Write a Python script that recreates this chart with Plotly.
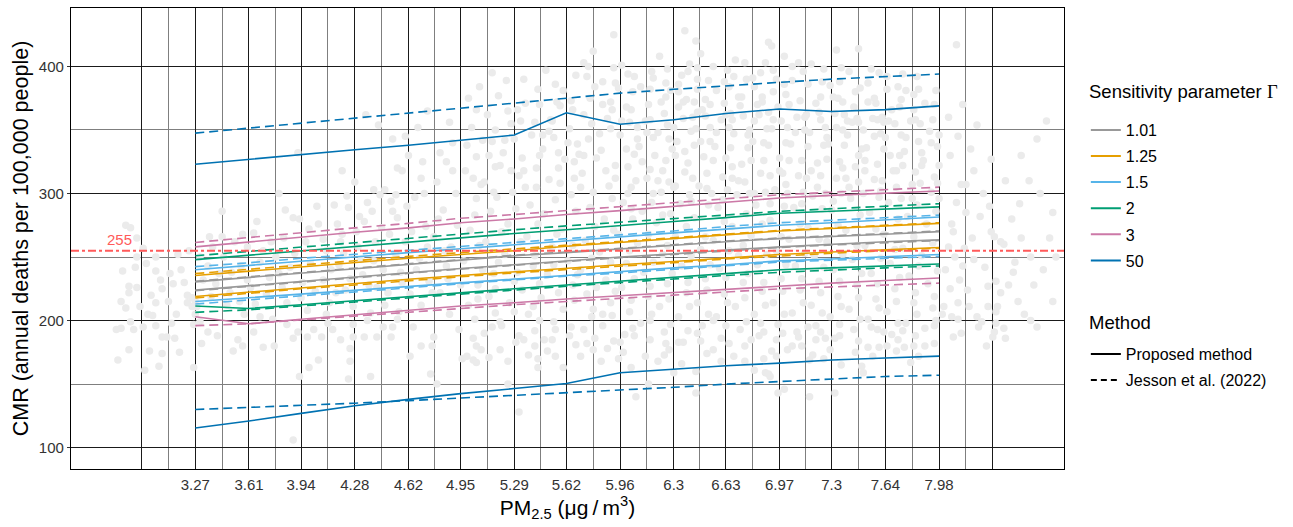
import plotly.graph_objects as go

# ---------------- data ----------------
pm25_ticks = [3.27, 3.61, 3.94, 4.28, 4.62, 4.95, 5.29, 5.62, 5.96, 6.3, 6.63, 6.97, 7.3, 7.64, 7.98]
tick_labels = ["3.27", "3.61", "3.94", "4.28", "4.62", "4.95", "5.29", "5.62", "5.96",
               "6.3", "6.63", "6.97", "7.3", "7.64", "7.98"]
extra_grid = [2.93, 8.32]

gamma_levels = ["1.01", "1.25", "1.5", "2", "3", "50"]
gamma_colors = ["#999999", "#E69F00", "#56B4E9", "#009E73", "#CC79A7", "#0072B2"]
method_names = ["Proposed method", "Jesson et al. (2022)"]

ref_cmr = 255

g101_prop_hi = [230.5, 234, 237.5, 241, 244.5, 248, 251, 253.5, 256.5, 259, 262, 264.5, 266.5, 268, 270]
g101_prop_lo = [224, 227.5, 231, 234.5, 238, 241, 244, 247, 250, 252.5, 255.5, 258, 260, 262, 263.5]
g101_jes_hi = [231, 234.5, 238, 241.5, 245, 248.5, 251.5, 254, 257, 259.5, 262.5, 265, 267, 268.5, 270.5]
g101_jes_lo = [223.5, 227, 230.5, 234, 237.5, 240.5, 243.5, 246.5, 249.5, 252, 255, 257.5, 259.5, 261.5, 263]

g125_prop_hi = [235.5, 239, 242, 245.5, 249, 252, 255, 258.5, 261.5, 264.5, 267.5, 270.5, 272.5, 274.5, 276.5]
g125_prop_lo = [219, 222.5, 226, 229, 232.5, 235.5, 238.5, 241, 244, 246.5, 249.5, 252, 254, 256, 257.5]
g125_jes_hi = [237, 240.5, 244, 247, 250.5, 253.5, 256.5, 259.5, 262.5, 265.5, 268.5, 271, 273, 275, 277]
g125_jes_lo = [217.8, 221.5, 225, 228, 231.5, 234.5, 237.5, 240, 243, 245.5, 248.5, 251, 253, 255, 257]

g15_prop_hi = [240, 243.5, 247, 250, 253.5, 256.5, 259.5, 262.5, 266, 269, 272, 275, 277, 279, 281.5]
g15_prop_lo = [215, 218, 221, 224, 227, 230, 233, 235.5, 238.5, 241.5, 244, 247, 248.5, 250.5, 252]
g15_jes_hi = [242.5, 245.5, 249, 252, 255.5, 258.5, 261.5, 264.5, 267.5, 270.5, 274, 277, 279, 281, 283]
g15_jes_lo = [213, 216.5, 219.5, 222.5, 226, 229, 232, 235, 237.5, 240.5, 243.5, 246, 247.5, 249, 250.5]

g2_prop_hi = [248, 251.5, 255, 258.5, 262, 265.5, 268.5, 271.5, 275, 278, 281, 284.5, 286, 288, 289.5]
g2_prop_lo = [211.5, 209.5, 212.5, 215.5, 219, 222, 225, 228, 231, 234, 237, 240, 241.5, 243, 244.5]
g2_jes_hi = [251, 254.5, 258, 261.5, 265, 268.5, 271.5, 274.5, 277.5, 280.5, 283.5, 286, 288, 290, 292]
g2_jes_lo = [206.5, 208.5, 211.5, 214.5, 218, 221, 224, 227, 230, 232.5, 235.5, 238, 240, 241.5, 243]

g3_prop_hi = [258, 262, 265.5, 269.5, 273, 277, 280, 283.5, 286.5, 290, 293.5, 296.5, 298.5, 300, 302]
g3_prop_lo = [203, 197.5, 201, 204.5, 208, 211.5, 214, 217, 219.5, 222, 225, 227.5, 229.5, 231.5, 233.5]
g3_jes_hi = [261.5, 265.5, 269, 273, 276.5, 280.5, 283.5, 286.5, 290, 293, 296, 299, 301, 303, 305]
g3_jes_lo = [196, 197.5, 200.5, 203.5, 207, 210, 212.5, 215, 217.5, 220, 222.5, 225, 226.5, 228, 229.5]

g50_prop_hi = [323, 327, 331, 334.5, 338, 342, 346, 363.5, 354.5, 358, 363, 366.5, 364.5, 366, 369]
g50_prop_lo = [115.5, 121, 127, 133, 138, 142.5, 146.5, 150.5, 159, 162, 164.5, 166.5, 169, 170.5, 172]
g50_jes_hi = [347.5, 351.5, 355.5, 359.5, 363.5, 367.5, 371.5, 375.5, 379, 382, 385, 387.5, 390, 392, 394]
g50_jes_lo = [130, 131.5, 133, 135, 137, 139, 141, 143, 145.5, 147.5, 150, 152, 154.5, 156, 157]

county_obs = [
    (2.83, 275), (2.86, 273), (2.90, 265), (2.94, 257), (3.02, 250), (3.16, 252), (3.23, 255), (3.36, 266),
    (3.44, 286), (3.44, 266), (3.57, 268), (3.64, 269), (3.84, 287), (3.89, 281), (3.93, 280), (3.99, 272),
    (3.92, 332), (4.23, 298), (4.24, 289), (4.36, 293), (4.40, 303), (4.44, 299), (4.47, 303), (4.51, 294),
    (4.54, 299), (4.52, 286), (4.31, 282), (4.34, 278), (4.19, 262), (4.35, 362), (4.43, 354),
    (2.81, 239), (2.89, 242), (3.02, 239), (3.11, 237), (2.85, 227), (2.90, 226), (2.85, 222), (2.99, 220),
    (3.06, 225), (3.13, 229), (3.02, 214), (2.92, 211), (2.97, 205), (3.00, 204), (2.86, 199), (2.77, 193),
    (2.80, 194), (2.88, 193), (2.94, 195), (3.06, 187), (3.09, 187), (3.22, 220), (3.25, 218), (3.27, 215),
    (3.22, 214), (3.25, 211), (3.28, 211), (3.27, 205), (3.30, 199), (3.26, 197), (2.85, 177), (2.78, 169),
    (2.98, 176), (3.06, 174), (3.17, 175), (3.04, 164), (2.95, 161), (3.26, 163), (3.31, 182), (3.41, 188),
    (3.35, 191), (3.51, 176), (3.57, 180), (3.54, 185), (3.64, 191), (3.70, 179), (3.77, 180), (3.89, 186),
    (3.92, 191), (3.98, 187), (4.02, 193), (4.07, 187), (3.93, 156), (3.99, 163), (4.05, 169), (4.25, 178),
    (4.25, 168), (4.24, 154), (4.38, 156), (4.14, 193), (4.19, 185), (4.27, 187), (4.34, 187), (4.42, 187),
    (4.51, 187), (4.52, 195), (3.89, 106), (3.37, 219), (3.49, 222), (3.68, 203), (3.76, 201), (3.85, 197),
    (4.11, 198), (4.27, 197), (4.38, 206), (4.46, 195), (4.55, 201),
    (4.65, 195), (4.78, 187), (4.70, 180), (4.77, 180), (4.63, 172), (4.94, 193), (4.96, 170), (4.99, 172),
    (5.08, 177), (5.13, 171), (5.20, 177), (5.03, 169), (5.05, 167), (4.80, 150), (4.76, 158), (5.25, 150),
    (5.32, 128), (5.38, 173), (5.42, 180), (5.44, 163), (5.48, 185), (5.53, 185), (5.60, 163), (5.71, 172),
    (5.79, 177), (5.84, 168), (5.98, 175), (5.96, 183), (6.06, 140), (6.14, 150), (6.24, 173), (6.33, 183),
    (6.30, 159), (6.44, 143), (6.47, 184), (6.55, 177), (6.60, 168), (6.79, 185), (6.81, 161), (6.90, 158),
    (6.96, 143), (7.00, 146), (7.02, 177), (6.87, 191), (6.95, 185), (7.09, 187), (7.18, 173), (7.20, 185),
    (7.26, 186), (7.29, 177), (7.36, 165), (7.32, 143), (7.49, 164), (7.50, 159), (7.53, 179), (7.60, 179),
    (7.63, 191), (7.72, 185), (7.76, 179), (7.82, 180), (7.89, 180), (7.16, 140), (6.88, 159), (6.91, 156),
    (8.07, 187), (8.10, 201), (8.25, 199), (8.22, 203), (8.32, 187), (8.33, 191), (8.39, 194), (8.34, 198),
    (8.29, 211), (8.35, 211), (8.37, 222), (8.34, 231), (8.45, 238), (8.46, 246), (8.27, 242), (8.16, 224),
    (8.13, 243), (8.17, 211), (8.06, 203), (8.00, 205), (8.01, 211),
    (8.09, 293), (8.15, 307), (8.15, 285), (8.06, 276), (8.07, 270), (8.31, 270), (8.33, 266), (8.37, 262),
    (8.39, 260), (8.49, 292), (8.23, 195), (8.10, 214), (8.11, 232), (8.04, 258), (8.20, 248), (8.29, 227),
    (8.34, 207), (8.66, 357), (8.60, 343), (8.50, 330), (8.55, 310), (8.62, 300), (8.70, 285), (8.68, 265),
    (8.72, 250), (8.64, 240), (8.58, 228), (8.70, 215), (8.52, 205), (8.60, 195), (8.13, 370), (8.09, 417),
    (8.22, 354), (8.31, 327), (8.12, 307),
    (5.79, 412), (6.44, 420), (6.47, 410), (6.90, 419), (7.33, 413), (7.00, 408), (7.09, 403), (5.73, 403),
    (6.01, 394), (6.17, 391), (6.26, 398), (6.39, 396), (6.68, 392), (6.80, 391), (5.93, 387), (6.25, 387),
    (6.45, 382), (6.62, 388), (6.93, 380), (7.01, 378), (7.31, 376), (7.37, 372), (7.57, 375), (7.74, 374),
    (7.82, 378), (7.66, 357), (8.04, 360), (6.22, 372), (6.36, 372), (6.50, 374), (6.71, 376), (6.86, 372),
    (5.90, 372), (5.91, 366), (6.33, 368), (6.15, 358), (6.45, 364), (6.67, 358), (6.81, 357), (7.23, 358),
    (7.40, 357), (7.47, 356), (7.59, 358), (5.00, 375), (5.58, 369), (5.51, 349), (5.34, 328), (5.57, 332),
    (5.70, 331), (5.17, 321), (4.82, 332), (5.92, 425), (6.37, 428), (6.92, 416), (7.47, 414),
    (5.02, 352), (4.98, 318), (5.05, 296), (5.01, 271), (4.97, 247), (5.06, 228), (5.00, 212), (5.04, 201), (4.99, 338),
    (5.12, 362), (5.15, 341), (5.10, 309), (5.14, 286), (5.11, 262), (5.16, 237), (5.13, 219), (5.10, 190), (5.17, 206),
    (5.24, 389), (5.27, 355), (5.22, 332), (5.28, 301), (5.25, 276), (5.23, 252), (5.29, 231), (5.26, 214), (5.21, 196), (5.30, 183),
    (5.36, 371), (5.40, 346), (5.35, 318), (5.39, 291), (5.37, 266), (5.41, 243), (5.34, 224), (5.38, 205), (5.42, 192),
    (5.49, 397), (5.52, 358), (5.47, 335), (5.51, 311), (5.48, 284), (5.53, 258), (5.50, 236), (5.46, 218), (5.54, 199), (5.50, 176),
    (5.60, 381), (5.64, 351), (5.61, 327), (5.65, 299), (5.59, 272), (5.63, 247), (5.66, 228), (5.60, 209), (5.64, 188),
    (5.73, 362), (5.76, 343), (5.72, 316), (5.77, 289), (5.74, 263), (5.71, 240), (5.75, 221), (5.78, 203), (5.73, 193), (5.76, 400),
    (5.85, 388), (5.88, 359), (5.84, 334), (5.89, 306), (5.86, 280), (5.83, 254), (5.87, 232), (5.90, 214), (5.85, 196), (5.88, 178),
    (5.97, 401), (6.00, 368), (5.96, 346), (6.01, 321), (5.98, 293), (5.95, 268), (6.00, 245), (5.97, 226), (6.02, 207), (5.99, 189),
    (6.09, 384), (6.12, 357), (6.08, 337), (6.13, 312), (6.10, 286), (6.07, 261), (6.11, 238), (6.14, 219), (6.09, 198), (6.12, 172),
    (6.21, 408), (6.24, 363), (6.20, 348), (6.25, 326), (6.22, 301), (6.19, 277), (6.23, 252), (6.26, 229), (6.21, 211), (6.24, 191), (6.20, 168),
    (6.33, 386), (6.36, 359), (6.32, 341), (6.37, 317), (6.34, 292), (6.31, 266), (6.35, 243), (6.38, 222), (6.33, 203), (6.36, 183),
    (6.45, 399), (6.48, 366), (6.44, 351), (6.49, 329), (6.46, 306), (6.43, 281), (6.47, 256), (6.50, 233), (6.45, 214), (6.48, 196), (6.44, 160),
    (6.57, 381), (6.60, 358), (6.56, 337), (6.61, 313), (6.58, 289), (6.55, 263), (6.59, 241), (6.62, 221), (6.57, 203), (6.60, 186),
    (6.69, 405), (6.72, 369), (6.68, 347), (6.73, 323), (6.70, 299), (6.67, 274), (6.71, 251), (6.74, 230), (6.69, 211), (6.72, 193), (6.68, 172),
    (6.81, 384), (6.84, 362), (6.80, 341), (6.85, 316), (6.82, 291), (6.79, 267), (6.83, 244), (6.86, 223), (6.81, 205), (6.84, 188),
    (6.93, 397), (6.96, 368), (6.92, 351), (6.97, 328), (6.94, 303), (6.91, 279), (6.95, 255), (6.98, 233), (6.93, 214), (6.96, 197), (6.92, 176),
    (7.05, 389), (7.08, 360), (7.04, 339), (7.09, 314), (7.06, 289), (7.03, 264), (7.07, 243), (7.10, 224), (7.05, 206), (7.08, 191),
    (7.17, 402), (7.20, 371), (7.16, 348), (7.21, 324), (7.18, 298), (7.15, 273), (7.19, 251), (7.22, 231), (7.17, 212), (7.20, 196), (7.16, 169),
    (7.29, 385), (7.32, 363), (7.28, 339), (7.33, 312), (7.30, 287), (7.27, 262), (7.31, 240), (7.34, 219), (7.29, 203), (7.32, 186),
    (7.41, 396), (7.44, 368), (7.40, 346), (7.45, 321), (7.42, 296), (7.39, 271), (7.43, 248), (7.46, 228), (7.41, 209), (7.44, 193),
    (7.53, 387), (7.56, 359), (7.52, 336), (7.57, 311), (7.54, 285), (7.51, 259), (7.55, 237), (7.58, 217), (7.53, 201), (7.56, 172),
    (7.65, 392), (7.68, 366), (7.64, 344), (7.69, 318), (7.66, 293), (7.63, 268), (7.67, 245), (7.70, 225), (7.65, 207), (7.68, 189),
    (7.77, 381), (7.80, 357), (7.76, 333), (7.81, 307), (7.78, 282), (7.75, 257), (7.79, 235), (7.82, 214), (7.77, 198), (7.80, 167),
    (7.89, 371), (7.92, 349), (7.88, 326), (7.93, 301), (7.90, 276), (7.87, 251), (7.91, 229), (7.94, 210), (7.89, 194),
    (4.52, 343), (4.58, 318), (4.55, 281), (4.60, 262), (4.57, 238), (4.63, 221), (4.56, 207), (4.68, 352),
    (4.71, 325), (4.66, 297), (4.73, 274), (4.69, 249), (4.75, 231), (4.70, 212), (4.80, 309), (4.84, 287),
    (4.78, 266), (4.86, 243), (4.82, 222), (4.88, 205), (4.90, 340), (4.92, 300), (4.89, 258),
    (4.05, 276), (4.10, 255), (4.08, 232), (4.12, 214), (4.15, 291), (4.20, 268), (4.18, 244), (4.22, 224),
    (4.28, 309), (4.30, 258), (4.33, 236), (4.27, 211), (4.40, 247), (4.42, 226), (4.45, 273), (4.47, 212),
    (4.10, 205), (4.36, 200),
    (3.35, 243), (3.40, 229), (3.45, 250), (3.50, 238), (3.55, 215), (3.60, 258), (3.62, 226), (3.68, 246),
    (3.72, 221), (3.75, 262), (3.80, 237), (3.85, 214), (3.90, 253), (3.95, 230), (3.98, 208), (3.58, 205),
    (3.32, 232),
    (5.07, 384), (5.05, 329), (5.08, 307), (5.04, 283), (5.07, 259), (5.09, 240), (5.06, 217), (5.03, 186),
    (5.19, 377), (5.17, 350), (5.20, 322), (5.18, 297), (5.21, 270), (5.19, 246), (5.17, 225), (5.20, 199),
    (5.31, 366), (5.29, 343), (5.32, 314), (5.30, 288), (5.33, 262), (5.31, 238), (5.29, 207), (5.32, 188),
    (5.44, 382), (5.42, 356), (5.45, 330), (5.43, 305), (5.44, 276), (5.42, 251), (5.45, 229), (5.41, 211), (5.44, 170),
    (5.56, 372), (5.54, 344), (5.57, 320), (5.55, 295), (5.56, 268), (5.54, 244), (5.57, 222), (5.55, 193),
    (5.68, 393), (5.66, 366), (5.69, 339), (5.67, 312), (5.68, 286), (5.66, 259), (5.69, 236), (5.67, 216), (5.68, 181),
    (5.80, 384), (5.78, 355), (5.81, 328), (5.79, 301), (5.80, 274), (5.78, 249), (5.81, 226), (5.79, 209), (5.80, 186),
    (5.92, 399), (5.90, 351), (5.93, 322), (5.91, 296), (5.92, 271), (5.90, 246), (5.93, 223), (5.91, 204), (5.92, 184),
    (6.04, 380), (6.02, 356), (6.05, 331), (6.03, 305), (6.04, 280), (6.02, 255), (6.05, 233), (6.03, 216), (6.04, 194), (6.03, 163),
    (6.16, 396), (6.14, 370), (6.17, 344), (6.15, 319), (6.16, 293), (6.14, 268), (6.17, 246), (6.15, 227), (6.16, 205), (6.15, 185),
    (6.28, 381), (6.26, 354), (6.29, 335), (6.27, 309), (6.28, 284), (6.26, 259), (6.29, 237), (6.27, 217), (6.28, 197), (6.27, 177),
    (6.40, 402), (6.38, 374), (6.41, 349), (6.39, 324), (6.40, 299), (6.38, 274), (6.41, 251), (6.39, 230), (6.40, 211), (6.39, 192),
    (6.52, 389), (6.50, 361), (6.53, 341), (6.51, 316), (6.52, 291), (6.50, 266), (6.53, 244), (6.51, 224), (6.52, 205), (6.51, 174),
    (6.64, 397), (6.62, 371), (6.65, 352), (6.63, 328), (6.64, 303), (6.62, 278), (6.65, 255), (6.63, 234), (6.64, 214), (6.63, 196),
    (6.76, 390), (6.74, 361), (6.77, 336), (6.75, 309), (6.76, 284), (6.74, 259), (6.77, 237), (6.75, 218), (6.76, 199), (6.75, 180),
    (6.88, 403), (6.86, 376), (6.89, 351), (6.87, 326), (6.88, 301), (6.86, 276), (6.89, 252), (6.87, 230), (6.88, 212), (6.87, 170),
    (7.00, 386), (6.98, 357), (7.01, 340), (6.99, 316), (7.00, 290), (6.98, 266), (7.01, 244), (6.99, 223), (7.00, 205), (6.99, 190),
    (7.12, 396), (7.10, 373), (7.13, 350), (7.11, 326), (7.12, 301), (7.10, 276), (7.13, 253), (7.11, 233), (7.12, 214), (7.11, 180),
    (7.24, 388), (7.22, 364), (7.25, 338), (7.23, 314), (7.24, 288), (7.22, 264), (7.25, 242), (7.23, 222), (7.24, 206), (7.23, 191),
    (7.36, 399), (7.34, 375), (7.37, 350), (7.35, 325), (7.36, 300), (7.34, 275), (7.37, 252), (7.35, 231), (7.36, 211), (7.35, 197),
    (7.48, 383), (7.46, 359), (7.49, 335), (7.47, 309), (7.48, 283), (7.46, 259), (7.49, 237), (7.47, 218), (7.48, 201), (7.47, 184),
    (7.60, 395), (7.58, 371), (7.61, 347), (7.59, 323), (7.60, 297), (7.58, 272), (7.61, 249), (7.59, 229), (7.60, 210), (7.59, 193),
    (7.72, 384), (7.70, 355), (7.73, 330), (7.71, 305), (7.72, 280), (7.70, 256), (7.73, 234), (7.71, 215), (7.72, 198), (7.71, 176),
    (7.84, 392), (7.82, 366), (7.85, 341), (7.83, 317), (7.84, 291), (7.82, 266), (7.85, 243), (7.83, 222), (7.84, 205), (7.83, 188),
    (7.96, 381), (7.94, 358), (7.97, 337), (7.95, 313), (7.96, 286), (7.94, 261), (7.97, 239), (7.95, 219), (7.96, 200), (7.95, 182),
    (6.00, 335), (6.06, 310), (6.03, 288), (6.07, 352), (6.10, 325), (6.18, 330), (6.20, 310), (6.23, 283),
    (6.30, 352), (6.31, 330), (6.30, 305), (6.42, 360), (6.43, 338), (6.42, 312), (6.53, 352), (6.55, 326),
    (6.54, 300), (6.66, 363), (6.66, 336), (6.67, 312), (6.78, 350), (6.79, 326), (6.78, 300), (6.90, 364),
    (6.90, 338), (6.91, 314), (7.02, 352), (7.03, 326), (7.02, 300), (7.14, 362), (7.15, 337), (7.14, 312),
    (7.26, 352), (7.27, 327), (7.26, 300), (7.38, 362), (7.38, 338), (7.39, 312), (7.50, 350), (7.51, 326),
    (7.50, 300), (7.62, 360), (7.63, 335), (7.62, 310), (7.74, 346), (7.75, 322), (7.74, 296), (7.86, 355),
    (7.87, 332), (7.86, 308), (7.98, 346), (7.98, 322), (7.98, 296),
    (8.05, 330), (8.10, 345), (8.18, 335), (8.20, 318), (8.26, 300), (8.30, 290), (8.40, 310), (8.44, 280),
    (8.50, 265), (8.56, 250), (8.42, 228), (8.48, 215), (8.56, 200), (8.40, 186), (8.19, 265), (8.24, 282),
    (8.08, 250), (8.14, 257), (8.02, 240), (8.05, 225), (8.12, 190), (8.28, 180),
    (3.30, 250), (3.38, 258), (3.42, 237), (3.47, 212), (3.52, 262), (3.56, 243), (3.60, 232), (3.65, 213),
    (3.66, 278), (3.70, 255), (3.74, 234), (3.78, 250), (3.82, 226), (3.83, 265), (3.87, 242), (3.94, 218),
    (3.97, 262), (4.00, 245), (4.03, 223), (4.04, 290), (4.08, 264), (4.13, 240), (4.16, 222), (4.17, 276),
    (4.21, 253), (4.25, 233), (4.29, 270), (4.32, 248), (4.37, 228), (4.39, 286), (4.41, 262), (4.46, 240),
    (4.49, 222), (4.50, 268), (4.54, 252), (4.58, 230), (4.61, 290), (4.64, 270), (4.67, 240), (4.72, 300),
    (4.74, 258), (4.77, 222), (4.81, 280), (4.85, 255), (4.87, 233), (4.90, 318), (4.93, 275), (4.95, 228),
    (4.62, 330), (4.70, 312), (4.86, 325), (4.55, 320), (4.20, 318), (3.80, 300), (4.60, 345), (4.74, 365),
    (4.88, 356),
    (2.90, 250), (2.96, 245), (3.05, 232), (3.10, 215), (3.15, 205), (3.20, 230), (3.18, 240), (3.12, 198),
    (2.83, 210), (2.80, 215), (3.02, 196), (3.14, 186),
    (5.05, 366), (5.09, 342), (5.03, 312), (5.15, 395), (5.13, 330), (5.16, 301), (5.25, 365), (5.23, 342),
    (5.27, 318), (5.35, 390), (5.33, 357), (5.36, 305), (5.45, 370), (5.47, 346), (5.43, 320), (5.55, 386),
    (5.53, 357), (5.58, 308), (5.65, 373), (5.63, 340), (5.67, 325), (5.75, 392), (5.77, 375), (5.73, 330),
    (5.71, 305), (5.85, 370), (5.83, 347), (5.87, 318), (5.95, 383), (5.97, 357), (5.93, 312), (6.05, 392),
    (6.03, 366), (6.07, 343), (6.01, 300), (6.15, 382), (6.13, 348), (6.17, 300), (6.25, 376), (6.27, 343),
    (6.23, 318), (6.35, 393), (6.33, 380), (6.37, 333), (6.31, 306), (6.45, 390), (6.43, 372), (6.47, 341),
    (6.41, 294), (6.55, 400), (6.53, 370), (6.57, 348), (6.51, 304), (6.65, 384), (6.63, 362), (6.67, 321),
    (6.61, 295), (6.75, 403), (6.73, 376), (6.77, 346), (6.71, 310), (6.85, 395), (6.83, 370), (6.87, 340),
    (6.81, 300), (6.95, 390), (6.93, 358), (6.97, 318), (6.91, 292), (7.05, 400), (7.03, 370), (7.07, 348),
    (7.01, 307), (7.15, 386), (7.13, 360), (7.17, 318), (7.11, 292), (7.25, 398), (7.23, 376), (7.27, 344),
    (7.21, 305), (7.35, 388), (7.33, 352), (7.37, 320), (7.31, 294), (7.45, 380), (7.43, 356), (7.47, 330),
    (7.41, 305), (7.55, 398), (7.53, 372), (7.57, 345), (7.51, 318), (7.65, 382), (7.63, 356), (7.67, 330),
    (7.61, 302), (7.75, 394), (7.73, 368), (7.77, 344), (7.71, 318), (7.85, 382), (7.83, 358), (7.87, 322),
    (7.81, 296), (7.95, 370), (7.93, 340), (7.97, 308),
    (5.05, 180), (5.15, 195), (5.25, 168), (5.35, 185), (5.45, 200), (5.55, 172), (5.65, 195), (5.75, 182),
    (5.85, 205), (5.95, 170), (6.05, 188), (6.15, 200), (6.25, 182), (6.35, 166), (6.45, 190), (6.55, 200),
    (6.65, 182), (6.75, 168), (6.85, 198), (6.95, 172), (7.05, 180), (7.15, 195), (7.25, 170), (7.35, 188),
    (7.45, 175), (7.55, 195), (7.65, 180), (7.75, 192), (7.85, 172), (7.95, 196),
]
obs_pm25 = [p[0] for p in county_obs]
obs_cmr = [p[1] for p in county_obs]

bounds = {
    "1.01": (g101_prop_hi, g101_prop_lo, g101_jes_hi, g101_jes_lo),
    "1.25": (g125_prop_hi, g125_prop_lo, g125_jes_hi, g125_jes_lo),
    "1.5": (g15_prop_hi, g15_prop_lo, g15_jes_hi, g15_jes_lo),
    "2": (g2_prop_hi, g2_prop_lo, g2_jes_hi, g2_jes_lo),
    "3": (g3_prop_hi, g3_prop_lo, g3_jes_hi, g3_jes_lo),
    "50": (g50_prop_hi, g50_prop_lo, g50_jes_hi, g50_jes_lo),
}

# ---------------- figure ----------------
FONT = "Liberation Sans, Arial, sans-serif"
DASH = "9px,5px"
RED = "#FF5A5A"
fig = go.Figure()

fig.add_trace(go.Scatter(
    x=obs_pm25, y=obs_cmr, mode="markers",
    marker=dict(color="#ebebeb", size=7.5, line=dict(width=0)),
    showlegend=False, hoverinfo="skip"))

for lvl, col in zip(gamma_levels, gamma_colors):
    p_hi, p_lo, j_hi, j_lo = bounds[lvl]
    for ys, dash in ((j_hi, DASH), (j_lo, DASH), (p_hi, "solid"), (p_lo, "solid")):
        fig.add_trace(go.Scatter(
            x=pm25_ticks, y=ys, mode="lines",
            line=dict(color=col, width=1.6, dash=dash),
            showlegend=False))

# reference line at 255
fig.add_hline(y=ref_cmr, line=dict(color=RED, width=2, dash="8px,3px,3px,3px"))
fig.add_annotation(x=2.79, y=ref_cmr, text=str(ref_cmr), showarrow=False,
                   yanchor="bottom", yshift=1, font=dict(size=15, color=RED, family=FONT))

# legend entries
for lvl, col in zip(gamma_levels, gamma_colors):
    fig.add_trace(go.Scatter(x=[None], y=[None], mode="lines", name=lvl,
                             line=dict(color=col, width=2), legend="legend",
                             legendgroup="g" + lvl))
fig.add_trace(go.Scatter(x=[None], y=[None], mode="lines", name=method_names[0],
                         line=dict(color="black", width=2), legend="legend2", legendgroup="m1"))
fig.add_trace(go.Scatter(x=[None], y=[None], mode="lines", name=method_names[1],
                         line=dict(color="black", width=2, dash="6px,4px"), legend="legend2",
                         legendgroup="m2"))

# legend titles
fig.add_annotation(xref="paper", yref="paper", x=1.0231, y=(469 - 92) / 461,
                   xanchor="left", yanchor="middle", showarrow=False,
                   text='Sensitivity parameter <span style="font-family:Liberation Serif, serif">Γ</span>',
                   font=dict(size=18.5, color="black", family=FONT))
fig.add_annotation(xref="paper", yref="paper", x=1.0231, y=(469 - 322) / 461,
                   xanchor="left", yanchor="middle", showarrow=False, text="Method",
                   font=dict(size=18.5, color="black", family=FONT))

major_x = [extra_grid[0]] + pm25_ticks + [extra_grid[1]]
major_text = [""] + tick_labels + [""]
minor_x = [(a + b) / 2 for a, b in zip(major_x[:-1], major_x[1:])]

fig.update_layout(
    width=1293, height=527,
    margin=dict(l=71, r=229, t=8, b=58),
    paper_bgcolor="white", plot_bgcolor="white",
    font=dict(family=FONT, color="black"),
    xaxis=dict(
        range=[2.483, 8.771], tickmode="array", tickvals=major_x, ticktext=major_text,
        showgrid=True, gridcolor="#1a1a1a", gridwidth=1,
        minor=dict(tickvals=minor_x, showgrid=True, gridcolor="#7f7f7f", gridwidth=1),
        ticks="outside", ticklen=2, tickcolor="rgba(0,0,0,0)",
        tickfont=dict(size=15, color="#333333"),
        showline=True, linecolor="black", linewidth=1.2, mirror=True, zeroline=False,
        title=dict(text="PM<sub>2.5</sub> (μg\u2009/\u2009m<sup>3</sup>)", font=dict(size=21), standoff=4),
    ),
    yaxis=dict(
        range=[83.2, 446], tickmode="array", tickvals=[100, 200, 300, 400],
        showgrid=True, gridcolor="#1a1a1a", gridwidth=1,
        minor=dict(tickvals=[150, 250, 350], showgrid=True, gridcolor="#7f7f7f", gridwidth=1),
        ticks="outside", ticklen=3, tickcolor="#333333",
        tickfont=dict(size=15, color="#333333"),
        showline=True, linecolor="black", linewidth=1.2, mirror=True, zeroline=False,
        title=dict(text="CMR (annual deaths per 100,000 people)", font=dict(size=21.5), standoff=4),
    ),
    legend=dict(
        x=1.022, xanchor="left", y=(469 - 113) / 461, yanchor="top",
        font=dict(size=16), tracegroupgap=2.3, itemwidth=30, bgcolor="rgba(0,0,0,0)"),
    legend2=dict(
        x=1.022, xanchor="left", y=(469 - 337) / 461, yanchor="top",
        font=dict(size=16), tracegroupgap=2.3, itemwidth=30, bgcolor="rgba(0,0,0,0)"),
)

fig.write_html("out.html")
